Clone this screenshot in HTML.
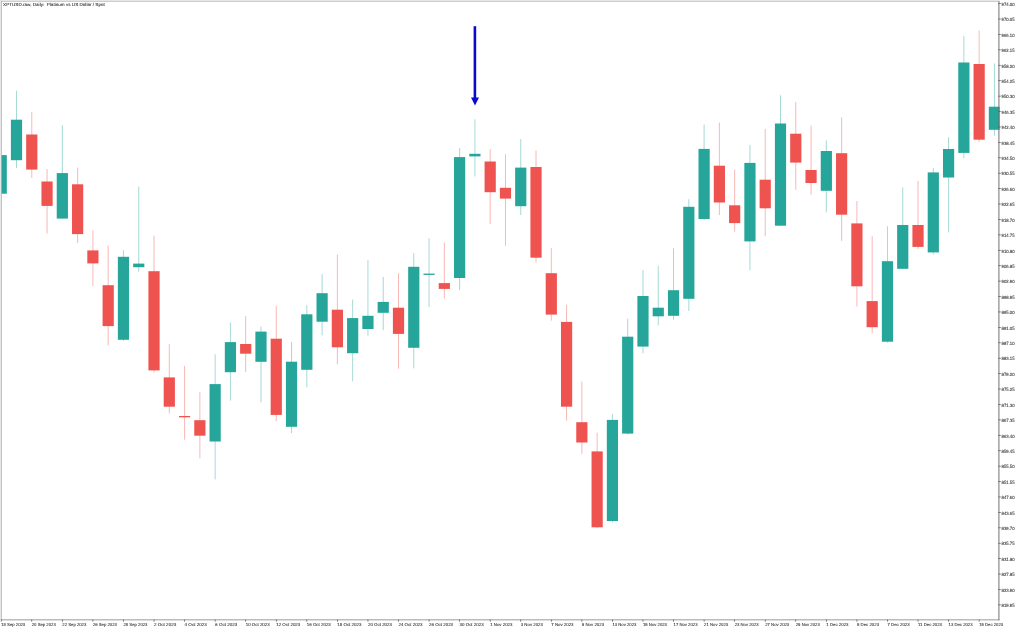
<!DOCTYPE html>
<html><head><meta charset="utf-8"><title>XPTUSD.raw, Daily</title>
<style>
html,body{margin:0;padding:0;background:#fff;overflow:hidden}
svg{display:block}
text{text-rendering:geometricPrecision;font-family:"Liberation Sans",Arial,sans-serif;fill:#303030;stroke:#303030;stroke-width:0.08px}
</style></head><body>
<svg width="1024" height="630" viewBox="0 0 1024 630">
<rect width="1024" height="630" fill="#fff"/>
<defs><clipPath id="cp"><rect x="0" y="1" width="998.2" height="619"/></clipPath></defs>
<g clip-path="url(#cp)">
<line x1="1.22" x2="1.22" y1="155.1" y2="193.7" stroke="#26a69a" stroke-width="0.42"/>
<rect x="-4.38" y="155.1" width="11.2" height="38.6" fill="#26a69a"/>
<line x1="16.50" x2="16.50" y1="90.7" y2="168.0" stroke="#26a69a" stroke-width="0.42"/>
<rect x="10.90" y="119.7" width="11.2" height="40.5" fill="#26a69a"/>
<line x1="31.78" x2="31.78" y1="111.9" y2="178.0" stroke="#ef5350" stroke-width="0.42"/>
<rect x="26.18" y="134.5" width="11.2" height="35.1" fill="#ef5350"/>
<line x1="47.06" x2="47.06" y1="169.0" y2="233.6" stroke="#ef5350" stroke-width="0.42"/>
<rect x="41.46" y="181.5" width="11.2" height="24.4" fill="#ef5350"/>
<line x1="62.34" x2="62.34" y1="125.1" y2="218.6" stroke="#26a69a" stroke-width="0.42"/>
<rect x="56.74" y="173.1" width="11.2" height="45.5" fill="#26a69a"/>
<line x1="77.62" x2="77.62" y1="167.6" y2="243.0" stroke="#ef5350" stroke-width="0.42"/>
<rect x="72.02" y="184.3" width="11.2" height="49.8" fill="#ef5350"/>
<line x1="92.90" x2="92.90" y1="230.3" y2="286.0" stroke="#ef5350" stroke-width="0.42"/>
<rect x="87.30" y="250.4" width="11.2" height="13.0" fill="#ef5350"/>
<line x1="108.18" x2="108.18" y1="245.5" y2="345.4" stroke="#ef5350" stroke-width="0.42"/>
<rect x="102.58" y="285.2" width="11.2" height="40.9" fill="#ef5350"/>
<line x1="123.46" x2="123.46" y1="250.2" y2="340.8" stroke="#26a69a" stroke-width="0.42"/>
<rect x="117.86" y="256.8" width="11.2" height="83.0" fill="#26a69a"/>
<line x1="138.74" x2="138.74" y1="186.6" y2="271.7" stroke="#26a69a" stroke-width="0.42"/>
<rect x="133.14" y="263.6" width="11.2" height="3.6" fill="#26a69a"/>
<line x1="154.02" x2="154.02" y1="235.6" y2="372.5" stroke="#ef5350" stroke-width="0.42"/>
<rect x="148.42" y="271.2" width="11.2" height="99.2" fill="#ef5350"/>
<line x1="169.30" x2="169.30" y1="344.1" y2="413.6" stroke="#ef5350" stroke-width="0.42"/>
<rect x="163.70" y="377.4" width="11.2" height="29.3" fill="#ef5350"/>
<line x1="184.58" x2="184.58" y1="365.8" y2="439.7" stroke="#ef5350" stroke-width="0.42"/>
<rect x="178.98" y="416.0" width="11.2" height="1.3" fill="#ef5350"/>
<line x1="199.86" x2="199.86" y1="391.8" y2="458.3" stroke="#ef5350" stroke-width="0.42"/>
<rect x="194.26" y="420.2" width="11.2" height="15.5" fill="#ef5350"/>
<line x1="215.14" x2="215.14" y1="354.3" y2="479.4" stroke="#26a69a" stroke-width="0.42"/>
<rect x="209.54" y="384.1" width="11.2" height="57.4" fill="#26a69a"/>
<line x1="230.42" x2="230.42" y1="322.6" y2="400.6" stroke="#26a69a" stroke-width="0.42"/>
<rect x="224.82" y="342.1" width="11.2" height="30.1" fill="#26a69a"/>
<line x1="245.70" x2="245.70" y1="316.2" y2="372.2" stroke="#ef5350" stroke-width="0.42"/>
<rect x="240.10" y="344.0" width="11.2" height="9.7" fill="#ef5350"/>
<line x1="260.98" x2="260.98" y1="326.5" y2="402.4" stroke="#26a69a" stroke-width="0.42"/>
<rect x="255.38" y="331.6" width="11.2" height="30.2" fill="#26a69a"/>
<line x1="276.26" x2="276.26" y1="305.7" y2="421.2" stroke="#ef5350" stroke-width="0.42"/>
<rect x="270.66" y="338.7" width="11.2" height="76.2" fill="#ef5350"/>
<line x1="291.54" x2="291.54" y1="342.0" y2="433.1" stroke="#26a69a" stroke-width="0.42"/>
<rect x="285.94" y="361.7" width="11.2" height="65.1" fill="#26a69a"/>
<line x1="306.82" x2="306.82" y1="305.2" y2="387.2" stroke="#26a69a" stroke-width="0.42"/>
<rect x="301.22" y="314.3" width="11.2" height="55.5" fill="#26a69a"/>
<line x1="322.10" x2="322.10" y1="274.2" y2="335.4" stroke="#26a69a" stroke-width="0.42"/>
<rect x="316.50" y="293.2" width="11.2" height="28.5" fill="#26a69a"/>
<line x1="337.38" x2="337.38" y1="254.6" y2="364.2" stroke="#ef5350" stroke-width="0.42"/>
<rect x="331.78" y="309.7" width="11.2" height="37.6" fill="#ef5350"/>
<line x1="352.66" x2="352.66" y1="299.6" y2="381.4" stroke="#26a69a" stroke-width="0.42"/>
<rect x="347.06" y="318.1" width="11.2" height="35.1" fill="#26a69a"/>
<line x1="367.94" x2="367.94" y1="260.2" y2="335.7" stroke="#26a69a" stroke-width="0.42"/>
<rect x="362.34" y="315.8" width="11.2" height="13.2" fill="#26a69a"/>
<line x1="383.22" x2="383.22" y1="277.0" y2="330.3" stroke="#26a69a" stroke-width="0.42"/>
<rect x="377.62" y="301.9" width="11.2" height="10.9" fill="#26a69a"/>
<line x1="398.50" x2="398.50" y1="273.2" y2="368.7" stroke="#ef5350" stroke-width="0.42"/>
<rect x="392.90" y="307.7" width="11.2" height="26.2" fill="#ef5350"/>
<line x1="413.78" x2="413.78" y1="253.1" y2="368.4" stroke="#26a69a" stroke-width="0.42"/>
<rect x="408.18" y="266.8" width="11.2" height="81.0" fill="#26a69a"/>
<line x1="429.06" x2="429.06" y1="238.4" y2="307.0" stroke="#26a69a" stroke-width="0.42"/>
<rect x="423.46" y="273.6" width="11.2" height="1.3" fill="#26a69a"/>
<line x1="444.34" x2="444.34" y1="242.5" y2="298.6" stroke="#ef5350" stroke-width="0.42"/>
<rect x="438.74" y="283.1" width="11.2" height="5.8" fill="#ef5350"/>
<line x1="459.62" x2="459.62" y1="148.0" y2="290.2" stroke="#26a69a" stroke-width="0.42"/>
<rect x="454.02" y="157.1" width="11.2" height="120.9" fill="#26a69a"/>
<line x1="474.90" x2="474.90" y1="119.3" y2="176.4" stroke="#26a69a" stroke-width="0.42"/>
<rect x="469.30" y="153.8" width="11.2" height="2.6" fill="#26a69a"/>
<line x1="490.18" x2="490.18" y1="149.0" y2="224.2" stroke="#ef5350" stroke-width="0.42"/>
<rect x="484.58" y="161.5" width="11.2" height="30.7" fill="#ef5350"/>
<line x1="505.46" x2="505.46" y1="154.1" y2="245.8" stroke="#ef5350" stroke-width="0.42"/>
<rect x="499.86" y="187.8" width="11.2" height="10.8" fill="#ef5350"/>
<line x1="520.74" x2="520.74" y1="139.1" y2="215.0" stroke="#26a69a" stroke-width="0.42"/>
<rect x="515.14" y="167.6" width="11.2" height="38.6" fill="#26a69a"/>
<line x1="536.02" x2="536.02" y1="150.5" y2="262.5" stroke="#ef5350" stroke-width="0.42"/>
<rect x="530.42" y="167.0" width="11.2" height="90.7" fill="#ef5350"/>
<line x1="551.30" x2="551.30" y1="248.2" y2="320.7" stroke="#ef5350" stroke-width="0.42"/>
<rect x="545.70" y="273.2" width="11.2" height="41.4" fill="#ef5350"/>
<line x1="566.58" x2="566.58" y1="304.9" y2="420.6" stroke="#ef5350" stroke-width="0.42"/>
<rect x="560.98" y="321.9" width="11.2" height="84.8" fill="#ef5350"/>
<line x1="581.86" x2="581.86" y1="381.6" y2="453.9" stroke="#ef5350" stroke-width="0.42"/>
<rect x="576.26" y="422.2" width="11.2" height="20.3" fill="#ef5350"/>
<line x1="597.14" x2="597.14" y1="432.6" y2="528.0" stroke="#ef5350" stroke-width="0.42"/>
<rect x="591.54" y="451.4" width="11.2" height="75.9" fill="#ef5350"/>
<line x1="612.42" x2="612.42" y1="413.8" y2="522.5" stroke="#26a69a" stroke-width="0.42"/>
<rect x="606.82" y="419.9" width="11.2" height="101.1" fill="#26a69a"/>
<line x1="627.70" x2="627.70" y1="318.6" y2="434.6" stroke="#26a69a" stroke-width="0.42"/>
<rect x="622.10" y="336.7" width="11.2" height="96.9" fill="#26a69a"/>
<line x1="642.98" x2="642.98" y1="269.9" y2="353.2" stroke="#26a69a" stroke-width="0.42"/>
<rect x="637.38" y="296.0" width="11.2" height="50.6" fill="#26a69a"/>
<line x1="658.26" x2="658.26" y1="265.6" y2="325.5" stroke="#26a69a" stroke-width="0.42"/>
<rect x="652.66" y="307.7" width="11.2" height="8.6" fill="#26a69a"/>
<line x1="673.54" x2="673.54" y1="248.3" y2="319.7" stroke="#26a69a" stroke-width="0.42"/>
<rect x="667.94" y="290.2" width="11.2" height="25.6" fill="#26a69a"/>
<line x1="688.82" x2="688.82" y1="199.2" y2="311.0" stroke="#26a69a" stroke-width="0.42"/>
<rect x="683.22" y="206.8" width="11.2" height="92.0" fill="#26a69a"/>
<line x1="704.10" x2="704.10" y1="124.5" y2="220.3" stroke="#26a69a" stroke-width="0.42"/>
<rect x="698.50" y="148.9" width="11.2" height="70.1" fill="#26a69a"/>
<line x1="719.38" x2="719.38" y1="122.5" y2="215.0" stroke="#ef5350" stroke-width="0.42"/>
<rect x="713.78" y="165.7" width="11.2" height="36.8" fill="#ef5350"/>
<line x1="734.66" x2="734.66" y1="169.5" y2="231.7" stroke="#ef5350" stroke-width="0.42"/>
<rect x="729.06" y="205.3" width="11.2" height="17.8" fill="#ef5350"/>
<line x1="749.94" x2="749.94" y1="144.9" y2="270.4" stroke="#26a69a" stroke-width="0.42"/>
<rect x="744.34" y="162.9" width="11.2" height="78.5" fill="#26a69a"/>
<line x1="765.22" x2="765.22" y1="128.9" y2="236.3" stroke="#ef5350" stroke-width="0.42"/>
<rect x="759.62" y="179.7" width="11.2" height="28.6" fill="#ef5350"/>
<line x1="780.50" x2="780.50" y1="95.3" y2="225.7" stroke="#26a69a" stroke-width="0.42"/>
<rect x="774.90" y="123.5" width="11.2" height="102.2" fill="#26a69a"/>
<line x1="795.78" x2="795.78" y1="101.9" y2="189.8" stroke="#ef5350" stroke-width="0.42"/>
<rect x="790.18" y="133.7" width="11.2" height="28.9" fill="#ef5350"/>
<line x1="811.06" x2="811.06" y1="125.6" y2="194.6" stroke="#ef5350" stroke-width="0.42"/>
<rect x="805.46" y="170.0" width="11.2" height="13.0" fill="#ef5350"/>
<line x1="826.34" x2="826.34" y1="140.3" y2="212.3" stroke="#26a69a" stroke-width="0.42"/>
<rect x="820.74" y="151.0" width="11.2" height="39.8" fill="#26a69a"/>
<line x1="841.62" x2="841.62" y1="117.4" y2="240.9" stroke="#ef5350" stroke-width="0.42"/>
<rect x="836.02" y="153.2" width="11.2" height="61.5" fill="#ef5350"/>
<line x1="856.90" x2="856.90" y1="201.0" y2="306.4" stroke="#ef5350" stroke-width="0.42"/>
<rect x="851.30" y="223.4" width="11.2" height="62.9" fill="#ef5350"/>
<line x1="872.18" x2="872.18" y1="236.3" y2="333.1" stroke="#ef5350" stroke-width="0.42"/>
<rect x="866.58" y="301.1" width="11.2" height="26.1" fill="#ef5350"/>
<line x1="887.46" x2="887.46" y1="226.3" y2="342.7" stroke="#26a69a" stroke-width="0.42"/>
<rect x="881.86" y="261.2" width="11.2" height="80.5" fill="#26a69a"/>
<line x1="902.74" x2="902.74" y1="187.5" y2="268.8" stroke="#26a69a" stroke-width="0.42"/>
<rect x="897.14" y="225.0" width="11.2" height="43.8" fill="#26a69a"/>
<line x1="918.02" x2="918.02" y1="180.9" y2="248.8" stroke="#ef5350" stroke-width="0.42"/>
<rect x="912.42" y="225.0" width="11.2" height="21.9" fill="#ef5350"/>
<line x1="933.30" x2="933.30" y1="168.1" y2="254.5" stroke="#26a69a" stroke-width="0.42"/>
<rect x="927.70" y="172.4" width="11.2" height="80.0" fill="#26a69a"/>
<line x1="948.58" x2="948.58" y1="137.2" y2="232.4" stroke="#26a69a" stroke-width="0.42"/>
<rect x="942.98" y="149.0" width="11.2" height="28.5" fill="#26a69a"/>
<line x1="963.86" x2="963.86" y1="35.8" y2="158.0" stroke="#26a69a" stroke-width="0.42"/>
<rect x="958.26" y="62.5" width="11.2" height="90.4" fill="#26a69a"/>
<line x1="979.14" x2="979.14" y1="30.5" y2="142.0" stroke="#ef5350" stroke-width="0.42"/>
<rect x="973.54" y="64.0" width="11.2" height="75.7" fill="#ef5350"/>
<line x1="994.42" x2="994.42" y1="63.5" y2="135.6" stroke="#26a69a" stroke-width="0.42"/>
<rect x="988.82" y="106.7" width="11.2" height="23.1" fill="#26a69a"/>
</g>
<rect x="473.6" y="26.2" width="2.6" height="72" fill="#0a0acd"/>
<path d="M471 97.5h8l-4 8.1z" fill="#0a0acd"/>
<rect x="0" y="0" width="999.5" height="1" fill="#e6e6e6"/>
<rect x="1" y="1" width="998.5" height="0.8" fill="#c2c2c2"/>
<rect x="0" y="1" width="1" height="619.3" fill="#e6e6e6"/>
<rect x="1" y="1" width="0.8" height="619.3" fill="#b4b4b4"/>
<rect x="1" y="619.4" width="998.5" height="0.9" fill="#909090"/>
<rect x="998.3" y="1.2" width="1.2" height="619.1" fill="#8a8a8a"/>
<rect x="998.3" y="106.7" width="1.2" height="23.1" fill="#1d7d74"/>
<rect x="998.2" y="3.25" width="2.6" height="0.7" fill="#555"/><text x="1001.6" y="5.85" font-size="4.6" textLength="13" lengthAdjust="spacingAndGlyphs">974.00</text>
<rect x="998.2" y="18.67" width="2.6" height="0.7" fill="#555"/><text x="1001.6" y="21.27" font-size="4.6" textLength="13" lengthAdjust="spacingAndGlyphs">970.05</text>
<rect x="998.2" y="34.09" width="2.6" height="0.7" fill="#555"/><text x="1001.6" y="36.69" font-size="4.6" textLength="13" lengthAdjust="spacingAndGlyphs">966.10</text>
<rect x="998.2" y="49.50" width="2.6" height="0.7" fill="#555"/><text x="1001.6" y="52.10" font-size="4.6" textLength="13" lengthAdjust="spacingAndGlyphs">962.15</text>
<rect x="998.2" y="64.92" width="2.6" height="0.7" fill="#555"/><text x="1001.6" y="67.52" font-size="4.6" textLength="13" lengthAdjust="spacingAndGlyphs">958.20</text>
<rect x="998.2" y="80.34" width="2.6" height="0.7" fill="#555"/><text x="1001.6" y="82.94" font-size="4.6" textLength="13" lengthAdjust="spacingAndGlyphs">954.25</text>
<rect x="998.2" y="95.76" width="2.6" height="0.7" fill="#555"/><text x="1001.6" y="98.36" font-size="4.6" textLength="13" lengthAdjust="spacingAndGlyphs">950.30</text>
<rect x="998.2" y="111.18" width="2.6" height="0.7" fill="#555"/><text x="1001.6" y="113.78" font-size="4.6" textLength="13" lengthAdjust="spacingAndGlyphs">946.35</text>
<rect x="998.2" y="126.59" width="2.6" height="0.7" fill="#555"/><text x="1001.6" y="129.19" font-size="4.6" textLength="13" lengthAdjust="spacingAndGlyphs">942.40</text>
<rect x="998.2" y="142.01" width="2.6" height="0.7" fill="#555"/><text x="1001.6" y="144.61" font-size="4.6" textLength="13" lengthAdjust="spacingAndGlyphs">938.45</text>
<rect x="998.2" y="157.43" width="2.6" height="0.7" fill="#555"/><text x="1001.6" y="160.03" font-size="4.6" textLength="13" lengthAdjust="spacingAndGlyphs">934.50</text>
<rect x="998.2" y="172.85" width="2.6" height="0.7" fill="#555"/><text x="1001.6" y="175.45" font-size="4.6" textLength="13" lengthAdjust="spacingAndGlyphs">930.55</text>
<rect x="998.2" y="188.27" width="2.6" height="0.7" fill="#555"/><text x="1001.6" y="190.87" font-size="4.6" textLength="13" lengthAdjust="spacingAndGlyphs">926.60</text>
<rect x="998.2" y="203.68" width="2.6" height="0.7" fill="#555"/><text x="1001.6" y="206.28" font-size="4.6" textLength="13" lengthAdjust="spacingAndGlyphs">922.65</text>
<rect x="998.2" y="219.10" width="2.6" height="0.7" fill="#555"/><text x="1001.6" y="221.70" font-size="4.6" textLength="13" lengthAdjust="spacingAndGlyphs">918.70</text>
<rect x="998.2" y="234.52" width="2.6" height="0.7" fill="#555"/><text x="1001.6" y="237.12" font-size="4.6" textLength="13" lengthAdjust="spacingAndGlyphs">914.75</text>
<rect x="998.2" y="249.94" width="2.6" height="0.7" fill="#555"/><text x="1001.6" y="252.54" font-size="4.6" textLength="13" lengthAdjust="spacingAndGlyphs">910.80</text>
<rect x="998.2" y="265.36" width="2.6" height="0.7" fill="#555"/><text x="1001.6" y="267.96" font-size="4.6" textLength="13" lengthAdjust="spacingAndGlyphs">906.85</text>
<rect x="998.2" y="280.77" width="2.6" height="0.7" fill="#555"/><text x="1001.6" y="283.37" font-size="4.6" textLength="13" lengthAdjust="spacingAndGlyphs">902.90</text>
<rect x="998.2" y="296.19" width="2.6" height="0.7" fill="#555"/><text x="1001.6" y="298.79" font-size="4.6" textLength="13" lengthAdjust="spacingAndGlyphs">898.95</text>
<rect x="998.2" y="311.61" width="2.6" height="0.7" fill="#555"/><text x="1001.6" y="314.21" font-size="4.6" textLength="13" lengthAdjust="spacingAndGlyphs">895.00</text>
<rect x="998.2" y="327.03" width="2.6" height="0.7" fill="#555"/><text x="1001.6" y="329.63" font-size="4.6" textLength="13" lengthAdjust="spacingAndGlyphs">891.05</text>
<rect x="998.2" y="342.45" width="2.6" height="0.7" fill="#555"/><text x="1001.6" y="345.05" font-size="4.6" textLength="13" lengthAdjust="spacingAndGlyphs">887.10</text>
<rect x="998.2" y="357.86" width="2.6" height="0.7" fill="#555"/><text x="1001.6" y="360.46" font-size="4.6" textLength="13" lengthAdjust="spacingAndGlyphs">883.15</text>
<rect x="998.2" y="373.28" width="2.6" height="0.7" fill="#555"/><text x="1001.6" y="375.88" font-size="4.6" textLength="13" lengthAdjust="spacingAndGlyphs">879.20</text>
<rect x="998.2" y="388.70" width="2.6" height="0.7" fill="#555"/><text x="1001.6" y="391.30" font-size="4.6" textLength="13" lengthAdjust="spacingAndGlyphs">875.25</text>
<rect x="998.2" y="404.12" width="2.6" height="0.7" fill="#555"/><text x="1001.6" y="406.72" font-size="4.6" textLength="13" lengthAdjust="spacingAndGlyphs">871.30</text>
<rect x="998.2" y="419.54" width="2.6" height="0.7" fill="#555"/><text x="1001.6" y="422.14" font-size="4.6" textLength="13" lengthAdjust="spacingAndGlyphs">867.35</text>
<rect x="998.2" y="434.95" width="2.6" height="0.7" fill="#555"/><text x="1001.6" y="437.55" font-size="4.6" textLength="13" lengthAdjust="spacingAndGlyphs">863.40</text>
<rect x="998.2" y="450.37" width="2.6" height="0.7" fill="#555"/><text x="1001.6" y="452.97" font-size="4.6" textLength="13" lengthAdjust="spacingAndGlyphs">859.45</text>
<rect x="998.2" y="465.79" width="2.6" height="0.7" fill="#555"/><text x="1001.6" y="468.39" font-size="4.6" textLength="13" lengthAdjust="spacingAndGlyphs">855.50</text>
<rect x="998.2" y="481.21" width="2.6" height="0.7" fill="#555"/><text x="1001.6" y="483.81" font-size="4.6" textLength="13" lengthAdjust="spacingAndGlyphs">851.55</text>
<rect x="998.2" y="496.63" width="2.6" height="0.7" fill="#555"/><text x="1001.6" y="499.23" font-size="4.6" textLength="13" lengthAdjust="spacingAndGlyphs">847.60</text>
<rect x="998.2" y="512.04" width="2.6" height="0.7" fill="#555"/><text x="1001.6" y="514.64" font-size="4.6" textLength="13" lengthAdjust="spacingAndGlyphs">843.65</text>
<rect x="998.2" y="527.46" width="2.6" height="0.7" fill="#555"/><text x="1001.6" y="530.06" font-size="4.6" textLength="13" lengthAdjust="spacingAndGlyphs">839.70</text>
<rect x="998.2" y="542.88" width="2.6" height="0.7" fill="#555"/><text x="1001.6" y="545.48" font-size="4.6" textLength="13" lengthAdjust="spacingAndGlyphs">835.75</text>
<rect x="998.2" y="558.30" width="2.6" height="0.7" fill="#555"/><text x="1001.6" y="560.90" font-size="4.6" textLength="13" lengthAdjust="spacingAndGlyphs">831.80</text>
<rect x="998.2" y="573.72" width="2.6" height="0.7" fill="#555"/><text x="1001.6" y="576.32" font-size="4.6" textLength="13" lengthAdjust="spacingAndGlyphs">827.85</text>
<rect x="998.2" y="589.13" width="2.6" height="0.7" fill="#555"/><text x="1001.6" y="591.73" font-size="4.6" textLength="13" lengthAdjust="spacingAndGlyphs">823.90</text>
<rect x="998.2" y="604.55" width="2.6" height="0.7" fill="#555"/><text x="1001.6" y="607.15" font-size="4.6" textLength="13" lengthAdjust="spacingAndGlyphs">819.95</text>
<rect x="0.87" y="619.5" width="0.7" height="2.2" fill="#555"/><text x="1.22" y="626.2" font-size="4.3" textLength="24.0" lengthAdjust="spacingAndGlyphs">18 Sep 2023</text>
<rect x="31.43" y="619.5" width="0.7" height="2.2" fill="#555"/><text x="31.78" y="626.2" font-size="4.3" textLength="24.0" lengthAdjust="spacingAndGlyphs">20 Sep 2023</text>
<rect x="61.99" y="619.5" width="0.7" height="2.2" fill="#555"/><text x="62.34" y="626.2" font-size="4.3" textLength="24.0" lengthAdjust="spacingAndGlyphs">22 Sep 2023</text>
<rect x="92.55" y="619.5" width="0.7" height="2.2" fill="#555"/><text x="92.90" y="626.2" font-size="4.3" textLength="24.0" lengthAdjust="spacingAndGlyphs">26 Sep 2023</text>
<rect x="123.11" y="619.5" width="0.7" height="2.2" fill="#555"/><text x="123.46" y="626.2" font-size="4.3" textLength="24.0" lengthAdjust="spacingAndGlyphs">28 Sep 2023</text>
<rect x="153.67" y="619.5" width="0.7" height="2.2" fill="#555"/><text x="154.02" y="626.2" font-size="4.3" textLength="22.2" lengthAdjust="spacingAndGlyphs">2 Oct 2023</text>
<rect x="184.23" y="619.5" width="0.7" height="2.2" fill="#555"/><text x="184.58" y="626.2" font-size="4.3" textLength="22.2" lengthAdjust="spacingAndGlyphs">4 Oct 2023</text>
<rect x="214.79" y="619.5" width="0.7" height="2.2" fill="#555"/><text x="215.14" y="626.2" font-size="4.3" textLength="22.2" lengthAdjust="spacingAndGlyphs">6 Oct 2023</text>
<rect x="245.35" y="619.5" width="0.7" height="2.2" fill="#555"/><text x="245.70" y="626.2" font-size="4.3" textLength="24.0" lengthAdjust="spacingAndGlyphs">10 Oct 2023</text>
<rect x="275.91" y="619.5" width="0.7" height="2.2" fill="#555"/><text x="276.26" y="626.2" font-size="4.3" textLength="24.0" lengthAdjust="spacingAndGlyphs">12 Oct 2023</text>
<rect x="306.47" y="619.5" width="0.7" height="2.2" fill="#555"/><text x="306.82" y="626.2" font-size="4.3" textLength="24.0" lengthAdjust="spacingAndGlyphs">16 Oct 2023</text>
<rect x="337.03" y="619.5" width="0.7" height="2.2" fill="#555"/><text x="337.38" y="626.2" font-size="4.3" textLength="24.0" lengthAdjust="spacingAndGlyphs">18 Oct 2023</text>
<rect x="367.59" y="619.5" width="0.7" height="2.2" fill="#555"/><text x="367.94" y="626.2" font-size="4.3" textLength="24.0" lengthAdjust="spacingAndGlyphs">20 Oct 2023</text>
<rect x="398.15" y="619.5" width="0.7" height="2.2" fill="#555"/><text x="398.50" y="626.2" font-size="4.3" textLength="24.0" lengthAdjust="spacingAndGlyphs">24 Oct 2023</text>
<rect x="428.71" y="619.5" width="0.7" height="2.2" fill="#555"/><text x="429.06" y="626.2" font-size="4.3" textLength="24.0" lengthAdjust="spacingAndGlyphs">26 Oct 2023</text>
<rect x="459.27" y="619.5" width="0.7" height="2.2" fill="#555"/><text x="459.62" y="626.2" font-size="4.3" textLength="24.0" lengthAdjust="spacingAndGlyphs">30 Oct 2023</text>
<rect x="489.83" y="619.5" width="0.7" height="2.2" fill="#555"/><text x="490.18" y="626.2" font-size="4.3" textLength="22.2" lengthAdjust="spacingAndGlyphs">1 Nov 2023</text>
<rect x="520.39" y="619.5" width="0.7" height="2.2" fill="#555"/><text x="520.74" y="626.2" font-size="4.3" textLength="22.2" lengthAdjust="spacingAndGlyphs">3 Nov 2023</text>
<rect x="550.95" y="619.5" width="0.7" height="2.2" fill="#555"/><text x="551.30" y="626.2" font-size="4.3" textLength="22.2" lengthAdjust="spacingAndGlyphs">7 Nov 2023</text>
<rect x="581.51" y="619.5" width="0.7" height="2.2" fill="#555"/><text x="581.86" y="626.2" font-size="4.3" textLength="22.2" lengthAdjust="spacingAndGlyphs">9 Nov 2023</text>
<rect x="612.07" y="619.5" width="0.7" height="2.2" fill="#555"/><text x="612.42" y="626.2" font-size="4.3" textLength="24.0" lengthAdjust="spacingAndGlyphs">13 Nov 2023</text>
<rect x="642.63" y="619.5" width="0.7" height="2.2" fill="#555"/><text x="642.98" y="626.2" font-size="4.3" textLength="24.0" lengthAdjust="spacingAndGlyphs">15 Nov 2023</text>
<rect x="673.19" y="619.5" width="0.7" height="2.2" fill="#555"/><text x="673.54" y="626.2" font-size="4.3" textLength="24.0" lengthAdjust="spacingAndGlyphs">17 Nov 2023</text>
<rect x="703.75" y="619.5" width="0.7" height="2.2" fill="#555"/><text x="704.10" y="626.2" font-size="4.3" textLength="24.0" lengthAdjust="spacingAndGlyphs">21 Nov 2023</text>
<rect x="734.31" y="619.5" width="0.7" height="2.2" fill="#555"/><text x="734.66" y="626.2" font-size="4.3" textLength="24.0" lengthAdjust="spacingAndGlyphs">23 Nov 2023</text>
<rect x="764.87" y="619.5" width="0.7" height="2.2" fill="#555"/><text x="765.22" y="626.2" font-size="4.3" textLength="24.0" lengthAdjust="spacingAndGlyphs">27 Nov 2023</text>
<rect x="795.43" y="619.5" width="0.7" height="2.2" fill="#555"/><text x="795.78" y="626.2" font-size="4.3" textLength="24.0" lengthAdjust="spacingAndGlyphs">29 Nov 2023</text>
<rect x="825.99" y="619.5" width="0.7" height="2.2" fill="#555"/><text x="826.34" y="626.2" font-size="4.3" textLength="22.2" lengthAdjust="spacingAndGlyphs">1 Dec 2023</text>
<rect x="856.55" y="619.5" width="0.7" height="2.2" fill="#555"/><text x="856.90" y="626.2" font-size="4.3" textLength="22.2" lengthAdjust="spacingAndGlyphs">5 Dec 2023</text>
<rect x="887.11" y="619.5" width="0.7" height="2.2" fill="#555"/><text x="887.46" y="626.2" font-size="4.3" textLength="22.2" lengthAdjust="spacingAndGlyphs">7 Dec 2023</text>
<rect x="917.67" y="619.5" width="0.7" height="2.2" fill="#555"/><text x="918.02" y="626.2" font-size="4.3" textLength="24.0" lengthAdjust="spacingAndGlyphs">11 Dec 2023</text>
<rect x="948.23" y="619.5" width="0.7" height="2.2" fill="#555"/><text x="948.58" y="626.2" font-size="4.3" textLength="24.0" lengthAdjust="spacingAndGlyphs">13 Dec 2023</text>
<rect x="978.79" y="619.5" width="0.7" height="2.2" fill="#555"/><text x="979.14" y="626.2" font-size="4.3" textLength="24.0" lengthAdjust="spacingAndGlyphs">15 Dec 2023</text>
<text x="3.1" y="6.15" font-size="4.4" textLength="101.7" lengthAdjust="spacingAndGlyphs" xml:space="preserve">XPTUSD.raw, Daily:  Platinum vs US Dollar / Spot</text>
</svg></body></html>
